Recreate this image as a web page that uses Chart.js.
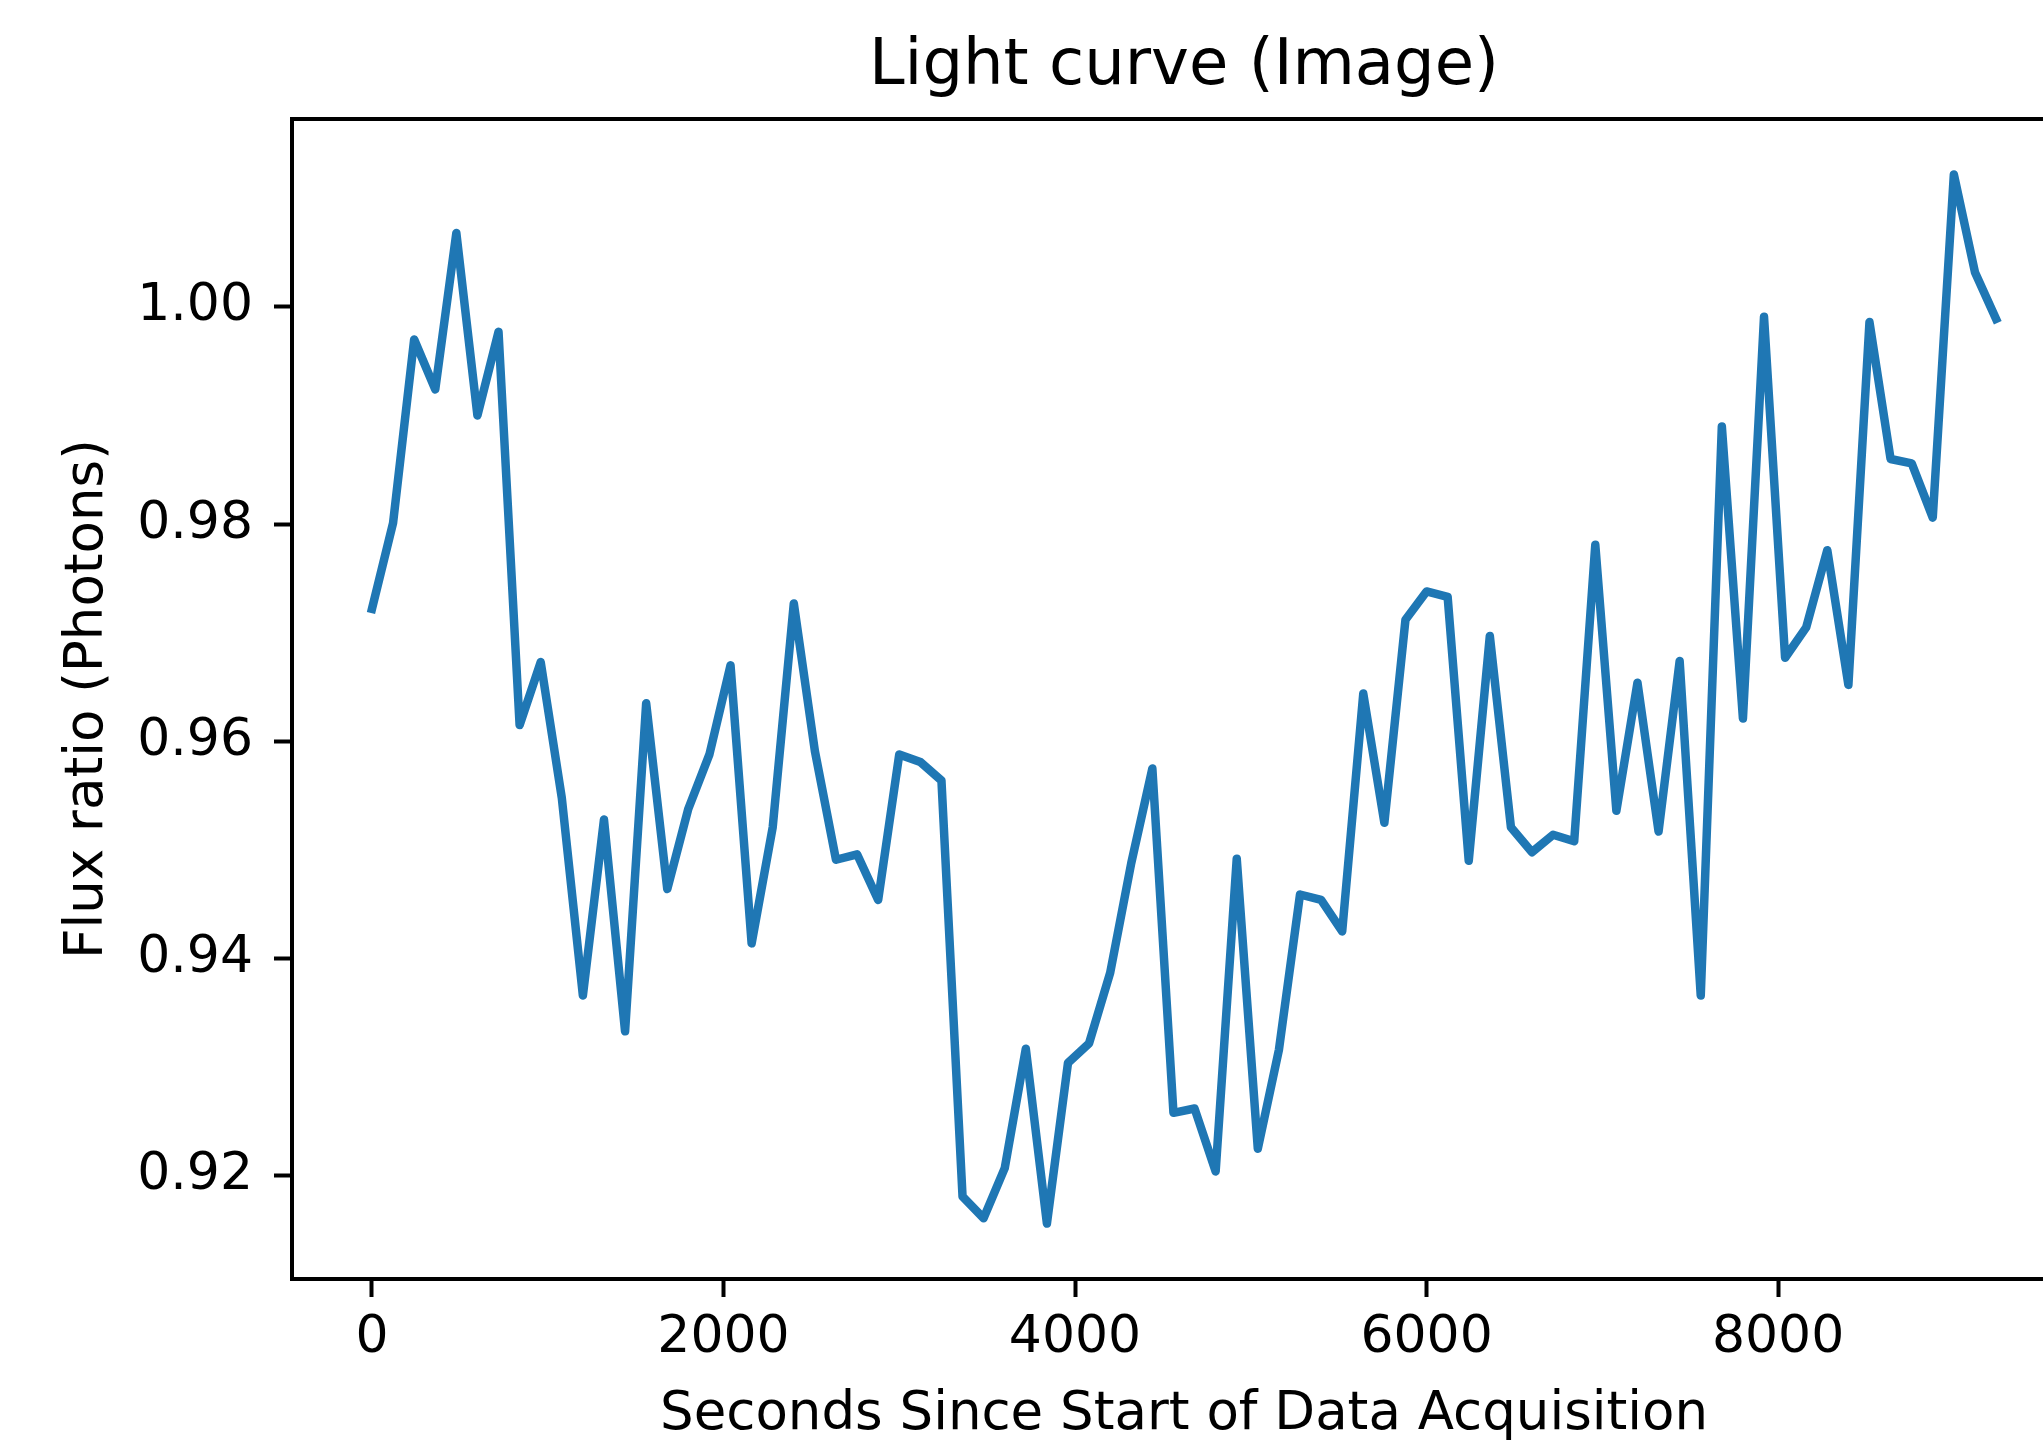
<!DOCTYPE html>
<html>
<head>
<meta charset="utf-8">
<title>Light curve (Image)</title>
<script src="https://cdn.jsdelivr.net/npm/chart.js@4.4.1/dist/chart.umd.min.js"></script>
<style>
    html, body { margin: 0; padding: 0; background: #ffffff; overflow: hidden; }
    #wrap { width: 2043px; height: 1443px; overflow: hidden; }
    canvas { display: block; }
</style>
</head>
<body>
<div id="wrap"><canvas id="lightCurveChart" width="2100" height="1443"></canvas></div>
<script>
// Light curve: flux ratio per 120 s exposure.
const seconds = [
    0, 120, 240, 360, 480, 600, 720, 840, 960, 1080,
    1200, 1320, 1440, 1560, 1680, 1800, 1920, 2040, 2160, 2280,
    2400, 2520, 2640, 2760, 2880, 3000, 3120, 3240, 3360, 3480,
    3600, 3720, 3840, 3960, 4080, 4200, 4320, 4440, 4560, 4680,
    4800, 4920, 5040, 5160, 5280, 5400, 5520, 5640, 5760, 5880,
    6000, 6120, 6240, 6360, 6480, 6600, 6720, 6840, 6960, 7080,
    7200, 7320, 7440, 7560, 7680, 7800, 7920, 8040, 8160, 8280,
    8400, 8520, 8640, 8760, 8880, 9000, 9120, 9240
];

const fluxRatio = [
    0.9722, 0.9801, 0.9970, 0.9924, 1.0068, 0.9900, 0.9977, 0.9615, 0.9673, 0.9548,
    0.9366, 0.9528, 0.9333, 0.9635, 0.9464, 0.9538, 0.9588, 0.9670, 0.9414, 0.9521,
    0.9727, 0.9591, 0.9491, 0.9496, 0.9454, 0.9588, 0.9581, 0.9564, 0.9181, 0.9161,
    0.9207, 0.9317, 0.9156, 0.9304, 0.9322, 0.9387, 0.9488, 0.9575, 0.9258, 0.9262,
    0.9204, 0.9492, 0.9225, 0.9316, 0.9459, 0.9454, 0.9425, 0.9644, 0.9525, 0.9712,
    0.9738, 0.9733, 0.9490, 0.9697, 0.9521, 0.9498, 0.9514, 0.9508, 0.9781, 0.9536,
    0.9654, 0.9517, 0.9674, 0.9366, 0.9890, 0.9621, 0.9991, 0.9677, 0.9705, 0.9776,
    0.9652, 0.9986, 0.9860, 0.9856, 0.9806, 1.0122, 1.0032, 0.9989
];

const xTickValues = [0, 2000, 4000, 6000, 8000];
const yTickValues = [0.92, 0.94, 0.96, 0.98, 1.00];

const xRange = [-455, 9695];
const yRange = [0.9105, 1.0173];

Chart.defaults.font.family = '"DejaVu Sans", sans-serif';
Chart.defaults.color = '#000000';

// matplotlib style box round the axes
const axesFrame = {
    id: 'axesFrame',
    afterDraw(chart) {
        const { ctx, chartArea } = chart;
        ctx.save();
        ctx.strokeStyle = '#000000';
        ctx.lineWidth = 4;
        ctx.strokeRect(chartArea.left, chartArea.top,
            chartArea.right - chartArea.left, chartArea.bottom - chartArea.top);
        ctx.restore();
    }
};

const tickGrid = {
    drawOnChartArea: false,
    drawTicks: true,
    tickLength: 18,
    tickWidth: 4,
    tickColor: '#000000'
};

const points = seconds.map((t, i) => ({ x: t, y: fluxRatio[i] }));

const ctx = document.getElementById('lightCurveChart').getContext('2d');

new Chart(ctx, {
    type: 'line',
    data: {
        datasets: [{
            label: 'Flux ratio',
            data: points,
            borderColor: '#1f77b4',
            borderWidth: 8.5,
            borderJoinStyle: 'round',
            borderCapStyle: 'square',
            pointRadius: 0,
            fill: false,
            tension: 0
        }]
    },
    options: {
        responsive: false,
        animation: false,
        devicePixelRatio: 1,
        layout: {
            padding: { left: 0, top: 0, right: 24, bottom: 0 }
        },
        scales: {
            x: {
                type: 'linear',
                min: xRange[0],
                max: xRange[1],
                grid: tickGrid,
                border: { display: false },
                afterBuildTicks: (axis) => {
                    axis.ticks = xTickValues.map((v) => ({ value: v }));
                },
                afterFit: (axis) => {
                    axis.height = 164;
                },
                ticks: {
                    autoSkip: false,
                    maxRotation: 0,
                    padding: 10,
                    font: { size: 52 },
                    callback: (value) => String(value)
                },
                title: {
                    display: true,
                    text: 'Seconds Since Start of Data Acquisition',
                    font: { size: 53 },
                    padding: { top: 0, bottom: -4.3 }
                }
            },
            y: {
                min: yRange[0],
                max: yRange[1],
                grid: tickGrid,
                border: { display: false },
                afterBuildTicks: (axis) => {
                    axis.ticks = yTickValues.map((v) => ({ value: v }));
                },
                afterFit: (axis) => {
                    axis.width = 292;
                },
                ticks: {
                    autoSkip: false,
                    padding: 21,
                    font: { size: 52 },
                    callback: (value) => Number(value).toFixed(2)
                },
                title: {
                    display: true,
                    text: 'Flux ratio (Photons)',
                    font: { size: 53 },
                    padding: { top: 56.4, bottom: 0 }
                }
            }
        },
        plugins: {
            legend: { display: false },
            tooltip: { enabled: false },
            title: {
                display: true,
                fullSize: false,
                text: 'Light curve (Image)',
                font: { size: 64, weight: 'normal' },
                padding: { top: 29.4, bottom: 12.8 }
            }
        }
    },
    plugins: [axesFrame]
});
</script>
</body>
</html>
